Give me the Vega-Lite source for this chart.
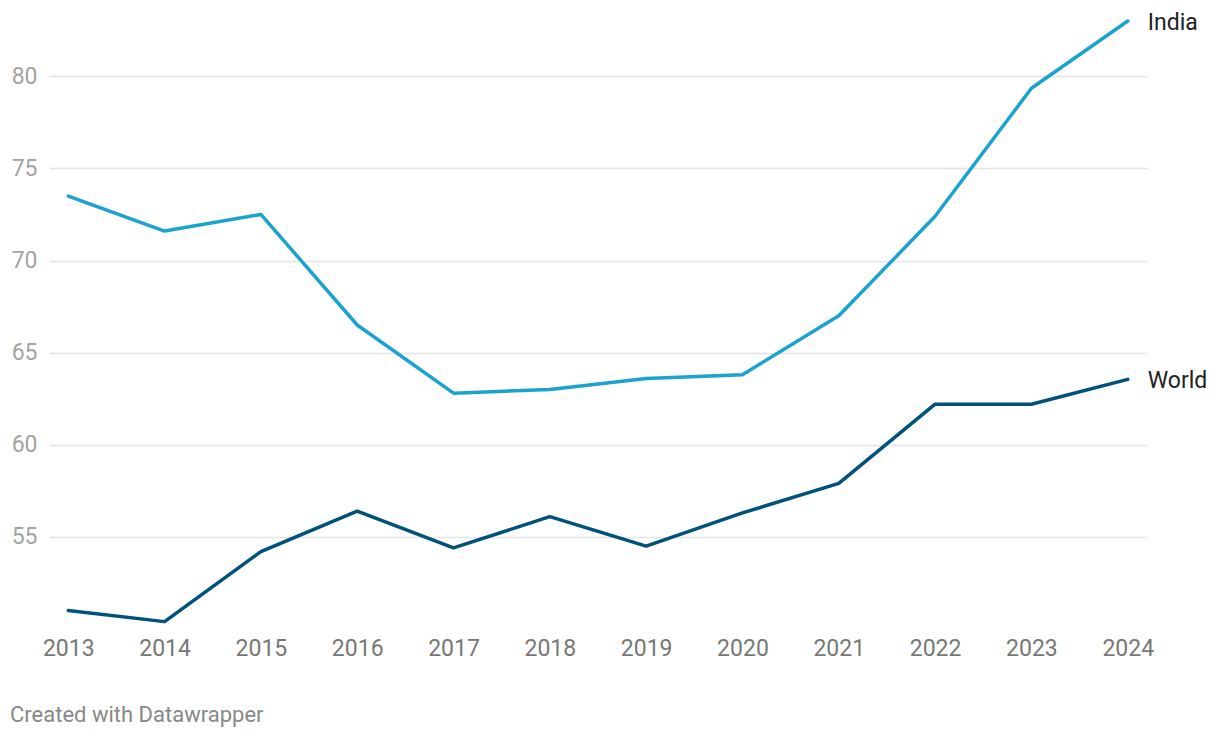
{
  "$schema": "https://vega.github.io/schema/vega-lite/v6.json",
  "width": 1098,
  "height": 608,
  "autosize": {"type": "none"},
  "padding": {"left": 49, "top": 21, "right": 73, "bottom": 109},
  "background": "white",
  "config": {
    "font": "Roboto",
    "view": {"stroke": null},
    "axis": {"labelFont": "Roboto"}
  },
  "title": {
    "text": "Created with Datawrapper",
    "orient": "bottom",
    "anchor": "start",
    "frame": "group",
    "dx": -39,
    "offset": 45,
    "fontSize": 22,
    "fontWeight": "normal",
    "color": "#888888",
    "font": "Roboto"
  },
  "data": {
    "values": [
      {"year": 2013, "series": "India", "value": 73.5},
      {"year": 2014, "series": "India", "value": 71.6},
      {"year": 2015, "series": "India", "value": 72.5},
      {"year": 2016, "series": "India", "value": 66.5},
      {"year": 2017, "series": "India", "value": 62.8},
      {"year": 2018, "series": "India", "value": 63.0},
      {"year": 2019, "series": "India", "value": 63.6},
      {"year": 2020, "series": "India", "value": 63.8},
      {"year": 2021, "series": "India", "value": 67.0},
      {"year": 2022, "series": "India", "value": 72.4},
      {"year": 2023, "series": "India", "value": 79.35},
      {"year": 2024, "series": "India", "value": 83.0},
      {"year": 2013, "series": "World", "value": 51.0},
      {"year": 2014, "series": "World", "value": 50.4},
      {"year": 2015, "series": "World", "value": 54.2},
      {"year": 2016, "series": "World", "value": 56.4},
      {"year": 2017, "series": "World", "value": 54.4},
      {"year": 2018, "series": "World", "value": 56.1},
      {"year": 2019, "series": "World", "value": 54.5},
      {"year": 2020, "series": "World", "value": 56.3},
      {"year": 2021, "series": "World", "value": 57.9},
      {"year": 2022, "series": "World", "value": 62.2},
      {"year": 2023, "series": "World", "value": 62.2},
      {"year": 2024, "series": "World", "value": 63.55}
    ]
  },
  "encoding": {
    "x": {
      "field": "year",
      "type": "quantitative",
      "scale": {"domain": [2012.8, 2024.2], "nice": false, "zero": false},
      "axis": {
        "title": null,
        "values": [2013, 2014, 2015, 2016, 2017, 2018, 2019, 2020, 2021, 2022, 2023, 2024],
        "format": "d",
        "grid": false,
        "domain": false,
        "ticks": false,
        "labelPadding": 8,
        "labelFontSize": 23,
        "labelColor": "#777777"
      }
    },
    "y": {
      "field": "value",
      "type": "quantitative",
      "scale": {"domain": [50, 83], "nice": false, "zero": false},
      "axis": {
        "title": null,
        "values": [55, 60, 65, 70, 75, 80],
        "grid": true,
        "gridColor": "#e4e4e4",
        "gridWidth": 1.5,
        "domain": false,
        "ticks": false,
        "labelPadding": 12,
        "labelFontSize": 23,
        "labelColor": "#a3a3a3"
      }
    },
    "color": {
      "field": "series",
      "type": "nominal",
      "scale": {"domain": ["India", "World"], "range": ["#1aa3cf", "#01527a"]},
      "legend": null
    }
  },
  "layer": [
    {
      "mark": {"type": "line", "strokeWidth": 3.5, "strokeCap": "round", "strokeJoin": "round"}
    },
    {
      "transform": [{"filter": "datum.year == 2024"}],
      "mark": {"type": "text", "align": "left", "baseline": "middle", "dx": 20, "dy": 2, "fontSize": 23, "color": "#222222"},
      "encoding": {
        "text": {"field": "series"},
        "color": {"value": "#222222"}
      }
    }
  ]
}
